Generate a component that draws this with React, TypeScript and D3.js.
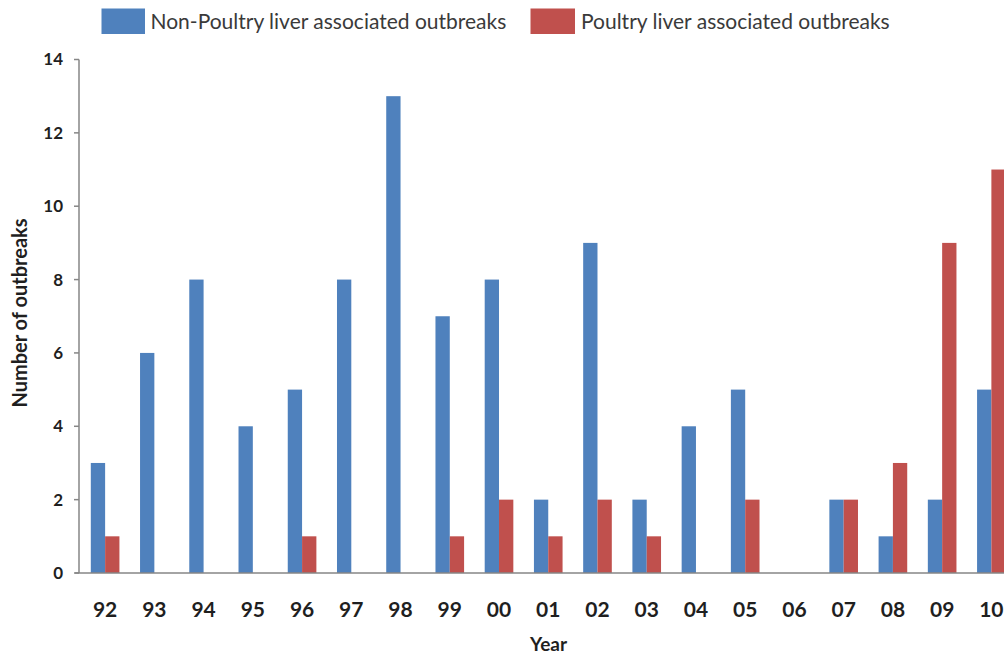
import React from "react";
import * as d3 from "d3";

const years = ["92","93","94","95","96","97","98","99","00","01","02","03","04","05","06","07","08","09","10"];
const nonPoultry = [3,6,8,4,5,8,13,7,8,2,9,2,4,5,0,2,1,2,5];
const poultry = [1,0,0,0,1,0,0,1,2,1,2,1,0,2,0,2,3,9,11];
const seriesNames = ["Non-Poultry liver associated outbreaks","Poultry liver associated outbreaks"];
const seriesColors = ["#4F81BD","#C0504D"];
const yTicks = [0,2,4,6,8,10,12,14];

const W = 1004, H = 656;
const FONT = "Lato, 'Open Sans', sans-serif";

export default function App() {
  const x0 = d3.scaleBand<string>().domain(years).range([80.5, 1016]).padding(0);
  const x1 = d3.scaleBand<string>().domain(["a","b"]).range([0, x0.bandwidth()]).paddingInner(0).paddingOuter(0.72);
  const y = d3.scaleLinear().domain([0, 14]).range([573, 59.5]);
  const vals = [nonPoultry, poultry];
  const keys = ["a","b"];
  return (
    <svg width={W} height={H} style={{position:"absolute", left:0, top:0, background:"#fff"}} fontFamily={FONT}>
      {/* legend */}
      <rect x={101.5} y={8.5} width={43.5} height={25.5} fill={seriesColors[0]} />
      <text x={150.5} y={28.5} fontSize={21} fill="#3a3a3a">{seriesNames[0]}</text>
      <rect x={530.5} y={8.5} width={44.5} height={25.5} fill={seriesColors[1]} />
      <text x={581} y={28.5} fontSize={21} fill="#3a3a3a">{seriesNames[1]}</text>

      {/* bars */}
      {vals.map((arr, si) =>
        arr.map((v, i) => v > 0 ? (
          <rect key={si + "-" + i}
            x={(x0(years[i]) as number) + (x1(keys[si]) as number)}
            y={y(v)} width={x1.bandwidth()} height={y(0) - y(v)}
            fill={seriesColors[si]} />
        ) : null)
      )}

      {/* y axis */}
      <line x1={79} x2={79} y1={y(14)} y2={y(0)} stroke="#868686" strokeWidth={1.5} />
      {yTicks.map(t => (
        <g key={t}>
          <line x1={74} x2={79} y1={y(t)} y2={y(t)} stroke="#868686" strokeWidth={1.5} />
          <text x={63} y={y(t)} dy="0.35em" textAnchor="end" fontSize={17} fontWeight="bold" fill="#1f1f1f">{t}</text>
        </g>
      ))}
      {/* x axis */}
      <line x1={75} x2={W} y1={y(0)} y2={y(0)} stroke="#868686" strokeWidth={1.5} />
      {years.map(yr => (
        <text key={yr} x={(x0(yr) as number) + x0.bandwidth() / 2} y={617} textAnchor="middle" fontSize={21} fontWeight="bold" fill="#1f1f1f">{yr}</text>
      ))}
      <text x={548.5} y={651} textAnchor="middle" fontSize={19} fontWeight="bold" fill="#1f1f1f">Year</text>
      <text transform="translate(27,313) rotate(-90)" textAnchor="middle" fontSize={20} fontWeight="bold" fill="#1f1f1f">Number of outbreaks</text>
    </svg>
  );
}
